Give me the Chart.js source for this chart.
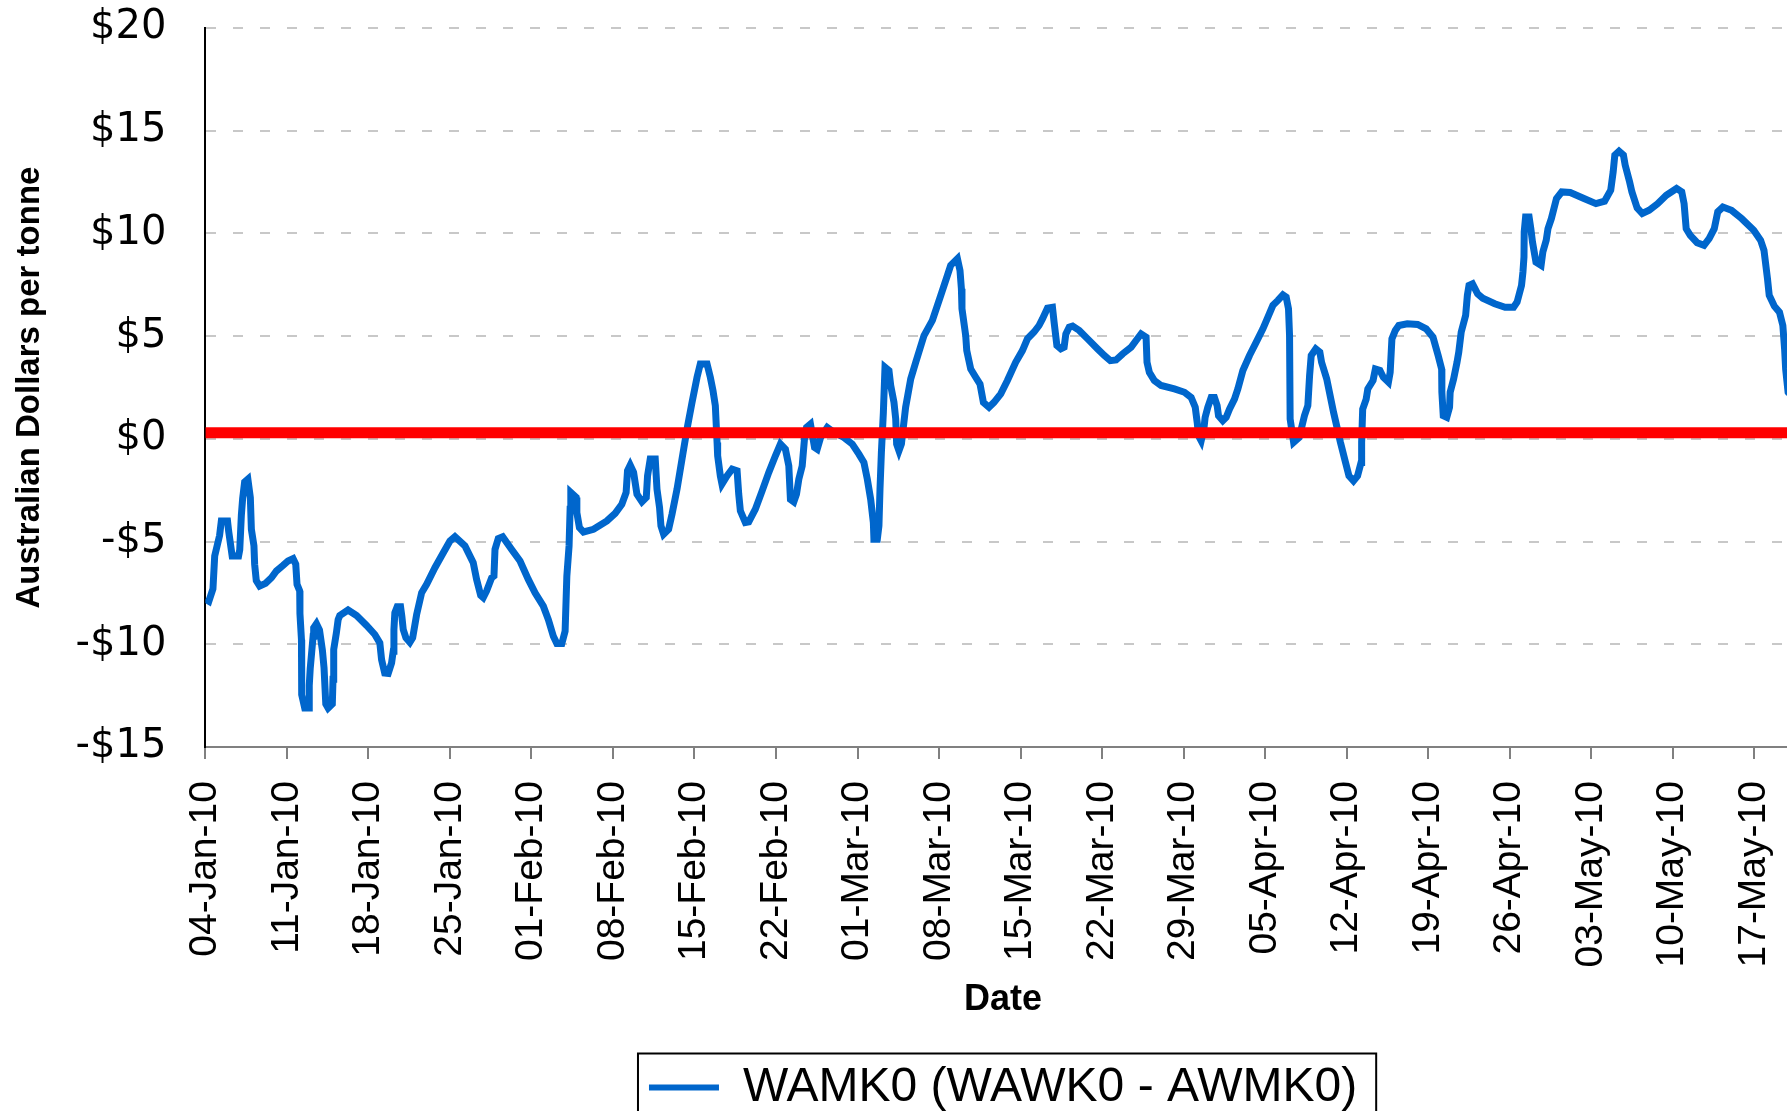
<!DOCTYPE html>
<html>
<head>
<meta charset="utf-8">
<title>WAMK0 spread</title>
<script src="https://cdn.jsdelivr.net/npm/chart.js@4.4.0/dist/chart.umd.min.js"></script>
<style>
    html, body { margin: 0; padding: 0; background: #fff; overflow: hidden; }
    canvas { display: block; }
</style>
</head>
<body>
<canvas id="spreadChart" width="1823" height="1125"></canvas>
<script>
// days counted from 04-Jan-10
const days = [
    0.0, 0.3, 0.65, 0.8, 1.22, 1.37, 1.9, 2.0, 2.3, 2.85, 2.95, 3.09, 3.2, 3.37, 3.65, 3.86, 3.95, 4.17, 4.23, 4.37,
    4.66, 5.17, 5.67, 6.1, 6.67, 7.1, 7.53, 7.76, 7.87, 8.1, 8.12, 8.25, 8.27, 8.53, 8.9, 8.92, 9.0, 9.25, 9.3, 9.54,
    9.8, 10.05, 10.19, 10.34, 10.54, 10.9, 10.96, 11.02, 11.25, 11.4, 11.54, 12.25, 12.98, 13.84, 14.55, 14.98, 15.13, 15.4, 15.7, 15.99,
    16.13, 16.19, 16.27, 16.47, 16.76, 16.87, 16.99, 17.22, 17.56, 17.8, 18.14, 18.57, 19.0, 19.71, 20.43, 21.0, 21.43, 22.29, 23.0, 23.29,
    23.64, 23.86, 24.15, 24.58, 24.78, 24.87, 25.15, 25.53, 26.3, 27.02, 27.73, 28.31, 29.02, 29.45, 29.88, 30.18, 30.61, 30.89, 31.04, 31.23,
    31.32, 31.38, 31.84, 31.9, 32.12, 32.47, 33.33, 34.48, 35.19, 35.76, 36.13, 36.25, 36.48, 36.77, 37.06, 37.49, 37.86, 37.97, 38.2, 38.63,
    38.78, 39.0, 39.12, 39.35, 39.78, 40.07, 40.5, 40.93, 41.36, 41.79, 42.22, 42.5, 43.08, 43.36, 43.59, 43.79, 43.94, 43.99, 44.22, 44.36,
    44.79, 45.23, 45.66, 45.8, 45.94, 46.37, 46.66, 47.23, 47.81, 48.38, 48.95, 49.38, 49.81, 50.1, 50.24, 50.53, 50.76, 50.96, 51.25, 51.47,
    51.62, 51.96, 52.11, 52.31, 52.54, 52.83, 53.4, 53.97, 54.83, 55.55, 56.12, 56.55, 56.84, 57.13, 57.36, 57.41, 57.7, 57.84, 57.93, 58.05,
    58.22, 58.36, 58.7, 58.85, 59.13, 59.28, 59.36, 59.56, 59.77, 60.13, 60.57, 61.0, 61.71, 62.43, 63.15, 63.72, 64.0, 64.58, 64.8, 64.92,
    64.97, 65.29, 65.38, 65.72, 66.15, 66.52, 66.81, 67.29, 67.72, 68.3, 68.87, 69.58, 70.16, 70.59, 71.16, 71.59, 71.88, 72.31, 72.74, 72.88,
    73.12, 73.46, 73.74, 73.89, 74.18, 74.47, 75.04, 75.76, 76.62, 77.19, 77.71, 78.2, 78.77, 79.49, 79.92, 80.35, 80.78, 80.86, 81.06, 81.49,
    82.07, 83.21, 84.08, 84.65, 85.0, 85.17, 85.28, 85.51, 85.74, 85.85, 86.08, 86.37, 86.65, 86.88, 87.0, 87.37, 87.66, 87.94, 88.37, 88.66,
    89.09, 89.66, 90.24, 90.81, 91.24, 91.67, 92.1, 92.53, 92.81, 93.01, 93.1, 93.15, 93.45, 93.93, 94.38, 94.67, 94.82, 94.96, 95.35, 95.7,
    95.85, 96.29, 96.88, 97.47, 97.91, 98.2, 98.59, 98.94, 99.24, 99.29, 99.38, 99.68, 99.82, 100.27, 100.47, 100.86, 101.15, 101.59, 101.74, 101.89,
    102.18, 102.48, 103.21, 104.1, 104.83, 105.42, 105.86, 106.16, 106.18, 106.3, 106.6, 106.84, 106.89, 107.19, 107.48, 107.63, 107.84, 108.22, 108.37, 108.51,
    108.81, 109.25, 109.69, 110.72, 111.61, 112.34, 112.64, 113.02, 113.14, 113.23, 113.25, 113.37, 113.67, 113.82, 113.96, 114.26, 114.7, 114.85, 115.14, 115.29,
    115.58, 116.02, 116.47, 117.2, 118.38, 119.41, 120.15, 120.68, 120.89, 121.03, 121.39, 121.77, 121.92, 122.3, 122.5, 122.95, 123.39, 123.98, 124.71, 125.45,
    126.33, 126.78, 126.98, 127.16, 127.51, 128.1, 128.69, 129.13, 129.57, 129.87, 130.31, 131.05, 131.93, 132.96, 133.55, 133.84, 134.14, 134.29, 134.73, 135.17,
    135.46, 135.61, 135.7, 135.91, 136.0
];

// WAMK0 (WAWK0 - AWMK0), A$ per tonne
const spread = [
    -7.8, -7.9, -7.3, -5.7, -4.7, -4.0, -4.0, -4.5, -5.7, -5.7, -5.4, -3.7, -2.9, -2.1, -1.96, -2.85, -4.4, -5.2, -6.1, -6.9,
    -7.16, -7.03, -6.76, -6.43, -6.16, -5.94, -5.83, -6.1, -7.08, -7.4, -8.5, -9.77, -12.45, -13.1, -13.1, -12.0, -11.2, -9.6, -9.2, -9.0,
    -9.3, -10.3, -11.15, -12.9, -13.1, -12.9, -11.7, -10.25, -9.44, -8.8, -8.6, -8.33, -8.6, -9.08, -9.52, -9.93, -10.74, -11.4, -11.42, -10.9,
    -10.33, -9.28, -8.46, -8.17, -8.17, -8.63, -9.28, -9.68, -9.9, -9.68, -8.55, -7.49, -7.08, -6.27, -5.54, -4.97, -4.76, -5.21, -6.02, -6.84,
    -7.62, -7.73, -7.4, -6.76, -6.67, -5.38, -4.85, -4.76, -5.38, -5.94, -6.84, -7.49, -8.14, -8.79, -9.6, -9.96, -9.96, -9.36, -6.67, -5.21,
    -3.42, -2.61, -2.85, -3.59, -4.32, -4.53, -4.4, -3.99, -3.62, -3.18, -2.61, -1.55, -1.28, -1.63, -2.69, -3.06, -2.85, -1.8, -0.98, -0.98,
    -2.45, -3.34, -4.23, -4.64, -4.4, -3.67, -2.45, -0.98, 0.48, 1.78, 3.0, 3.65, 3.65, 3.0, 2.35, 1.62, -0.17, -0.82, -1.8, -2.2,
    -1.8, -1.47, -1.55, -2.69, -3.5, -4.07, -4.04, -3.42, -2.53, -1.63, -0.82, -0.25, -0.5, -1.31, -2.94, -3.06, -2.69, -1.96, -1.31, 0.16,
    0.56, 0.72, 0.23, -0.41, -0.5, 0.07, 0.56, 0.32, 0.07, -0.25, -0.74, -1.15, -1.96, -2.94, -4.07, -4.89, -4.89, -4.23, -2.45, -0.66,
    1.29, 3.49, 3.33, 2.6, 1.78, 0.97, -0.25, -0.58, -0.25, 1.54, 2.92, 3.73, 5.03, 5.77, 6.99, 7.96, 8.45, 8.77, 8.2, 7.31,
    6.33, 5.03, 4.3, 3.4, 3.0, 2.67, 1.78, 1.54, 1.78, 2.19, 2.84, 3.73, 4.3, 4.87, 5.2, 5.52, 5.84, 6.37, 6.41, 5.68,
    4.55, 4.38, 4.46, 5.11, 5.44, 5.49, 5.28, 4.87, 4.38, 4.06, 3.81, 3.84, 4.14, 4.46, 4.79, 5.11, 4.95, 3.73, 3.24, 2.84,
    2.6, 2.43, 2.27, 2.02, 1.54, 0.8, 0.16, -0.09, 0.48, 1.05, 1.54, 2.02, 2.02, 1.62, 1.13, 0.89, 1.05, 1.45, 1.94, 2.43,
    3.33, 4.06, 4.71, 5.36, 5.93, 6.5, 6.74, 7.01, 6.9, 6.33, 5.03, 0.97, -0.17, 0.07, 1.13, 1.62, 3.08, 4.06, 4.38, 4.22,
    3.73, 2.92, 1.29, -0.17, -1.15, -1.8, -2.04, -1.8, -1.15, -0.17, 1.45, 1.94, 2.43, 2.84, 3.4, 3.33, 3.0, 2.76, 3.24, 4.87,
    5.28, 5.52, 5.6, 5.57, 5.36, 4.95, 4.06, 3.4, 2.27, 1.13, 1.05, 1.54, 2.27, 2.92, 3.73, 4.22, 5.2, 6.01, 6.99, 7.47,
    7.55, 7.06, 6.85, 6.58, 6.41, 6.41, 6.66, 7.47, 8.12, 8.85, 10.07, 10.8, 10.8, 10.23, 9.59, 8.61, 8.45, 9.1, 9.67, 10.23,
    10.72, 11.7, 12.02, 11.99, 11.7, 11.45, 11.57, 12.11, 13.0, 13.81, 14.0, 13.81, 13.33, 12.51, 12.02, 11.24, 10.97, 11.13, 11.45, 11.86,
    12.19, 12.02, 11.45, 10.23, 9.91, 9.55, 9.42, 9.75, 10.23, 11.05, 11.29, 11.13, 10.72, 10.16, 9.67, 9.18, 7.8, 6.99, 6.46, 6.17,
    5.52, 4.38, 3.4, 2.27, 2.2
];

const weekLabels = [
    '04-Jan-10', '11-Jan-10', '18-Jan-10', '25-Jan-10', '01-Feb-10', '08-Feb-10', '15-Feb-10',
    '22-Feb-10', '01-Mar-10', '08-Mar-10', '15-Mar-10', '22-Mar-10', '29-Mar-10', '05-Apr-10',
    '12-Apr-10', '19-Apr-10', '26-Apr-10', '03-May-10', '10-May-10', '17-May-10'
];

const refLevel = 0.3;   // red reference line
const lastDay = 137;    // 21-May-10

const blue = '#0066CC';

// thin black frame round the legend entry
const legendFrame = {
    id: 'legendFrame',
    afterDraw(chart) {
        const hit = chart.legend && chart.legend.legendHitBoxes[0];
        if (!hit) return;
        const c = chart.ctx;
        c.save();
        c.strokeStyle = '#000';
        c.lineWidth = 2;
        c.strokeRect(hit.left - 11, hit.top - 10, hit.width + 30, 200);
        c.restore();
    }
};

const ctx = document.getElementById('spreadChart').getContext('2d');

new Chart(ctx, {
    type: 'line',
    data: {
        datasets: [{
            label: 'WAMK0 (WAWK0 - AWMK0)',
            data: days.map((d, i) => ({ x: d, y: spread[i] })),
            borderColor: blue,
            backgroundColor: blue,
            borderWidth: 7,
            pointRadius: 0,
            tension: 0,
            order: 2
        }, {
            label: 'level',
            data: [{ x: 0, y: refLevel }, { x: lastDay, y: refLevel }],
            borderColor: '#FF0000',
            backgroundColor: '#FF0000',
            borderWidth: 11,
            pointRadius: 0,
            order: 1
        }]
    },
    options: {
        responsive: false,
        animation: false,
        layout: {
            padding: { top: 28, left: 0, right: 0, bottom: 3.5 }
        },
        scales: {
            x: {
                type: 'linear',
                min: 0,
                max: lastDay,
                ticks: {
                    stepSize: 7,
                    includeBounds: false,
                    autoSkip: false,
                    minRotation: 90,
                    maxRotation: 90,
                    padding: 22,
                    color: '#000',
                    font: { family: 'Liberation Sans', size: 39 },
                    callback: v => weekLabels[Math.round(v / 7)] || ''
                },
                grid: {
                    drawOnChartArea: false,
                    drawTicks: true,
                    tickLength: 12,
                    color: '#808080',
                    lineWidth: 2
                },
                border: { color: '#808080', width: 2 },
                title: {
                    display: true,
                    text: 'Date',
                    color: '#000',
                    font: { family: 'Liberation Sans', size: 36, weight: 'bold', lineHeight: 1 },
                    padding: { top: -7, bottom: 45 }
                }
            },
            y: {
                min: -15,
                max: 20,
                ticks: {
                    stepSize: 5,
                    padding: 0,
                    color: '#000',
                    font: { family: 'DejaVu Sans', size: 40 },
                    callback: v => (v < 0 ? '-$' : '$') + Math.abs(v)
                },
                grid: {
                    drawTicks: true,
                    tickLength: 39,
                    tickColor: 'rgba(0,0,0,0)',
                    color: '#c8c8c8',
                    lineWidth: 2
                },
                border: { color: '#000', width: 2, dash: [10, 17] },
                title: {
                    display: true,
                    text: 'Australian Dollars per tonne',
                    color: '#000',
                    font: { family: 'Liberation Sans', size: 33, weight: 'bold' },
                    padding: { top: 10, bottom: 26 }
                }
            }
        },
        plugins: {
            tooltip: { enabled: false },
            legend: {
                position: 'bottom',
                fullSize: false,
                labels: {
                    color: '#000',
                    font: { family: 'Liberation Sans', size: 48 },
                    boxWidth: 70,
                    boxHeight: 6,
                    padding: 0,
                    generateLabels: function (chart) {
                        var items = Chart.defaults.plugins.legend.labels.generateLabels(chart);
                        return items
                            .filter(x => x.datasetIndex === 0)
                            .map(x => Object.assign(x, { lineWidth: 0, fillStyle: blue }));
                    }
                }
            }
        }
    },
    plugins: [legendFrame]
});
</script>
</body>
</html>
